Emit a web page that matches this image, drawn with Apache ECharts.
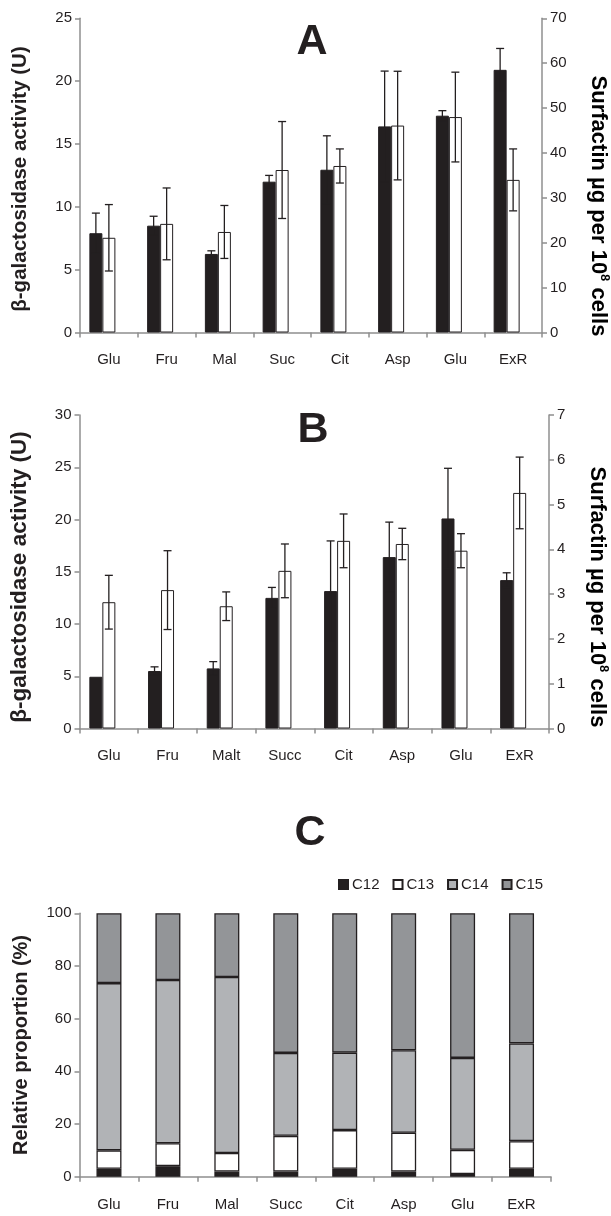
<!DOCTYPE html>
<html>
<head>
<meta charset="utf-8">
<script src="https://cdn.jsdelivr.net/npm/echarts@6/dist/echarts.min.js"></script>
<style>
html,body{margin:0;padding:0;background:#fff;}
#chart{width:611px;height:1216px;}
</style>
</head>
<body>
<div id="chart"></div>
<script>
// ---------- Panel A ----------
var aCats = ['Glu','Fru','Mal','Suc','Cit','Asp','Glu','ExR'];
var aBeta = [7.9, 8.5, 6.25, 12.0, 12.95, 16.4, 17.25, 20.9];
var aBetaErr = [1.6, 0.75, 0.25, 0.5, 2.7, 4.4, 0.4, 1.7];
var aSurf = [21.1, 24.2, 22.4, 36.2, 37.1, 46.1, 48.0, 34.0];
var aSurfErr = [7.4, 8.0, 5.9, 10.8, 3.8, 12.1, 10.0, 6.9];
var aLeftTicks = {min: 0, max: 25, interval: 5};
var aRightTicks = {min: 0, max: 70, interval: 10};

// ---------- Panel B ----------
var bCats = ['Glu','Fru','Malt','Succ','Cit','Asp','Glu','ExR'];
var bBeta = [4.95, 5.5, 5.75, 12.5, 13.15, 16.4, 20.1, 14.2];
var bBetaErr = [0, 0.4, 0.65, 1.0, 4.8, 3.35, 4.8, 0.7];
var bSurf = [2.82, 3.09, 2.73, 3.52, 4.19, 4.12, 3.97, 5.26];
var bSurfErr = [0.6, 0.88, 0.32, 0.6, 0.6, 0.35, 0.38, 0.8];
var bLeftTicks = {min: 0, max: 30, interval: 5};
var bRightTicks = {min: 0, max: 7, interval: 1};

// ---------- Panel C ----------
var cCats = ['Glu','Fru','Mal','Succ','Cit','Asp','Glu','ExR'];
var cNames = ['C12','C13','C14','C15'];
var c12 = [3, 4, 2, 2, 3, 2, 1, 3];
var c13 = [7, 8.7, 7, 13.5, 14.7, 14.7, 9.2, 10.5];
var c14 = [63.5, 62, 66.8, 31.5, 29.4, 31.3, 34.9, 37.1];
var c15 = [26.5, 25.3, 24.2, 53, 52.9, 52, 54.9, 49.4];
var cTicks = {min: 0, max: 100, interval: 20};

// ---------- styling ----------
var FONT = "'Liberation Sans', Arial, sans-serif";
var INK = '#231f20';
var AXIS = '#8f8f8f';
var BW = 13;

function errData(vals, errs) {
  var out = [];
  for (var i = 0; i < vals.length; i++) {
    if (errs[i] > 0) out.push([i, vals[i] - errs[i], vals[i] + errs[i]]);
  }
  return out;
}
function errRender(offset) {
  return function (params, api) {
    var i = api.value(0), lo = api.value(1), hi = api.value(2);
    var t = api.coord([i, hi]), b = api.coord([i, lo]);
    var x = t[0] + offset, hw = 4;
    var st = {stroke: INK, lineWidth: 1.3};
    return {type: 'group', children: [
      {type: 'line', shape: {x1: x, y1: t[1], x2: x, y2: b[1]}, style: st},
      {type: 'line', shape: {x1: x - hw, y1: t[1], x2: x + hw, y2: t[1]}, style: st},
      {type: 'line', shape: {x1: x - hw, y1: b[1], x2: x + hw, y2: b[1]}, style: st}
    ]};
  };
}
function xAx(grid, cats, margin) {
  return {type: 'category', gridIndex: grid, data: cats,
    axisLine: {lineStyle: {color: AXIS, width: 1.5}},
    axisTick: {show: true, length: 5, inside: false, lineStyle: {color: AXIS, width: 1.5}},
    axisLabel: {color: INK, fontSize: 15, fontFamily: FONT, margin: margin, interval: 0}};
}
function yAx(grid, t, pos) {
  return {type: 'value', gridIndex: grid, position: pos, min: t.min, max: t.max, interval: t.interval,
    splitLine: {show: false},
    axisLine: {show: true, lineStyle: {color: AXIS, width: 1.5}},
    axisTick: {show: true, length: 5, lineStyle: {color: AXIS, width: 1.5}},
    axisLabel: {color: INK, fontSize: 15, fontFamily: FONT, margin: 8}};
}
function barS(xi, yi, data, color) {
  return {type: 'bar', xAxisIndex: xi, yAxisIndex: yi, data: data, barWidth: BW, barGap: '0%',
    itemStyle: {color: color, borderColor: INK, borderWidth: 1}, z: 2};
}
function errS(xi, yi, vals, errs, offset) {
  return {type: 'custom', xAxisIndex: xi, yAxisIndex: yi, data: errData(vals, errs),
    encode: {x: 0, y: [1, 2]}, renderItem: errRender(offset), z: 5, silent: true};
}
var dummy = function (xi, yi) {
  return {type: 'bar', xAxisIndex: xi, yAxisIndex: yi, data: aCats.map(function () { return '-'; }),
    barWidth: BW, barGap: '0%'};
};

var cColors = [INK, '#ffffff', '#b1b3b6', '#939598'];
var cData = [c12, c13, c14, c15];
var cSeries = cNames.map(function (n, k) {
  return {type: 'bar', name: n, xAxisIndex: 2, yAxisIndex: 4, stack: 'c', data: cData[k], barWidth: 25,
    itemStyle: {color: cColors[k], borderColor: INK, borderWidth: 1.3}};
});

function leftTitle(text, x, y, fs) {
  return {type: 'text', x: x, y: y, rotation: Math.PI / 2,
    style: {text: text, align: 'center', verticalAlign: 'middle', fontSize: fs, fontWeight: 'bold', fontFamily: FONT, fill: INK}};
}
function rightTitle(x, y, fs) {
  return {type: 'text', x: x, y: y, rotation: -Math.PI / 2,
    style: {text: '{a|Surfactin µg per 10}{s|8}{a| cells}', align: 'center', verticalAlign: 'middle',
      rich: {
        a: {fontSize: fs, fontWeight: 'bold', fontFamily: FONT, color: INK, lineHeight: fs + 4},
        s: {fontSize: Math.round(fs * 0.6), fontWeight: 'bold', fontFamily: FONT, color: INK, lineHeight: 12, verticalAlign: 'top'}
      }}};
}
function panelTitle(text, x, y) {
  return {type: 'text', x: x, y: y,
    style: {text: text, align: 'center', verticalAlign: 'middle', fontSize: 43, fontWeight: 'bold', fontFamily: FONT, fill: INK}};
}

var option = {
  animation: false,
  backgroundColor: '#ffffff',
  grid: [
    {left: 80, top: 18.3, width: 462, height: 314.2},
    {left: 79.5, top: 415, width: 469.5, height: 313.5},
    {left: 79.5, top: 913.3, width: 471.5, height: 263.4}
  ],
  xAxis: [xAx(0, aCats, 20), xAx(1, bCats, 20), xAx(2, cCats, 21)],
  yAxis: [
    yAx(0, aLeftTicks, 'left'), yAx(0, aRightTicks, 'right'),
    yAx(1, bLeftTicks, 'left'), yAx(1, bRightTicks, 'right'),
    yAx(2, cTicks, 'left')
  ],
  legend: {data: cNames, left: 333, top: 872, icon: 'rect', itemWidth: 9, itemHeight: 9, itemGap: 13,
    textStyle: {fontSize: 15, fontFamily: FONT, color: INK, padding: [0, 0, 0, -1]}},
  graphic: [
    panelTitle('A', 312, 42), panelTitle('B', 313, 430), panelTitle('C', 310, 833),
    leftTitle('β-galactosidase activity (U)', 20, 179, 20.5),
    leftTitle('β-galactosidase activity (U)', 20, 577, 22.5),
    leftTitle('Relative proportion (%)', 21, 1045, 20),
    rightTitle(598, 206, 22), rightTitle(597, 597, 22)
  ],
  series: [
    barS(0, 0, aBeta, INK), barS(0, 1, aSurf, '#ffffff'), dummy(0, 0),
    errS(0, 0, aBeta, aBetaErr, -BW), errS(0, 1, aSurf, aSurfErr, 0),
    barS(1, 2, bBeta, INK), barS(1, 3, bSurf, '#ffffff'), dummy(1, 2),
    errS(1, 2, bBeta, bBetaErr, -BW), errS(1, 3, bSurf, bSurfErr, 0)
  ].concat(cSeries)
};

var chart = echarts.init(document.getElementById('chart'), null, {renderer: 'canvas'});
chart.setOption(option);
</script>
</body>
</html>
